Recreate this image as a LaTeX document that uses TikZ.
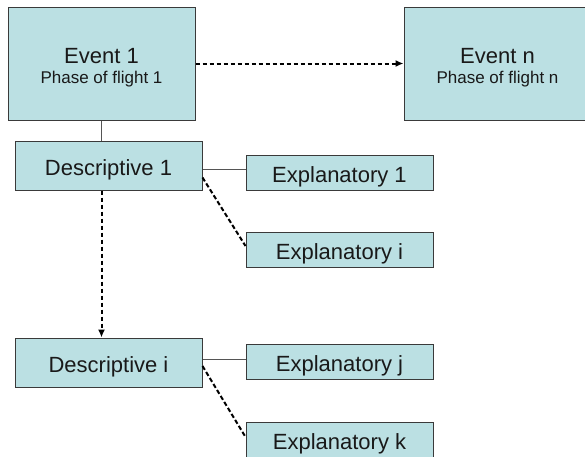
\documentclass[tikz,border=0pt]{standalone}
\usepackage{fontspec}
\setmainfont{Liberation Sans}
\usetikzlibrary{arrows.meta}
\definecolor{boxfill}{HTML}{BBE0E3}
\definecolor{boxline}{HTML}{3A3A3A}
\definecolor{solidline}{HTML}{555555}
\tikzset{
  box/.style={draw=boxline, line width=1pt, fill=boxfill, rectangle, inner sep=0pt, text=black!90,
    font=\fontsize{22}{26}\selectfont},
  bigbox/.style={box, minimum width=187pt, minimum height=113pt, align=center},
  smallbox/.style={box, text height=20pt, text depth=0.5pt},
  descbox/.style={smallbox, minimum width=187pt, minimum height=49pt},
  explbox/.style={smallbox, minimum width=187pt, minimum height=35pt},
  solidconn/.style={draw=solidline, line width=1pt},
  dashconn/.style={draw=black, line width=2pt, dash pattern=on 4.5pt off 2.5pt},
  dasharrow/.style={dashconn, -{Latex[length=8pt,width=7pt]}},
}
\newcommand{\subline}[1]{{\fontsize{17}{20}\selectfont #1}}
\begin{document}
\begin{tikzpicture}[x=1pt,y=-1pt]
\useasboundingbox (0,0) rectangle (585,456);
\node[bigbox] (e1) at (101.5,63.5) {\rule{0pt}{22.7pt}Event 1\\[-6pt]\subline{Phase of flight 1}};
\node[bigbox] (en) at (497.5,63.5) {\rule{0pt}{22.7pt}Event n\\[-6pt]\subline{Phase of flight n}};
\node[descbox] (d1) at (108.5,165.5) {Descriptive 1};
\node[descbox] (di) at (108.5,362.5) {Descriptive i};
\node[explbox] (x1) at (339.5,172.5) {Explanatory 1};
\node[explbox] (xi) at (339.5,249.5) {Explanatory i};
\node[explbox] (xj) at (339.5,362) {Explanatory j};
\node[explbox] (xk) at (339.5,439.5) {Explanatory k};
% connectors
\draw[solidconn] (e1.south) -- (e1.south |- d1.north);
\draw[dasharrow] (e1.east) -- (en.west);
\draw[solidconn] ([yshift=3.5pt]x1.west) -- ([yshift=3.5pt]x1.west -| d1.east);
\draw[dashconn] ([yshift=-12pt]d1.east) -- ([yshift=3.5pt]xi.west);
\draw[dasharrow] (e1.south |- d1.south) -- (e1.south |- di.north);
\draw[solidconn] ([yshift=3pt]xj.west) -- ([yshift=3pt]xj.west -| di.east);
\draw[dashconn] ([yshift=-3.5pt]di.east) -- ([yshift=2.5pt]xk.west);
\end{tikzpicture}
\end{document}
